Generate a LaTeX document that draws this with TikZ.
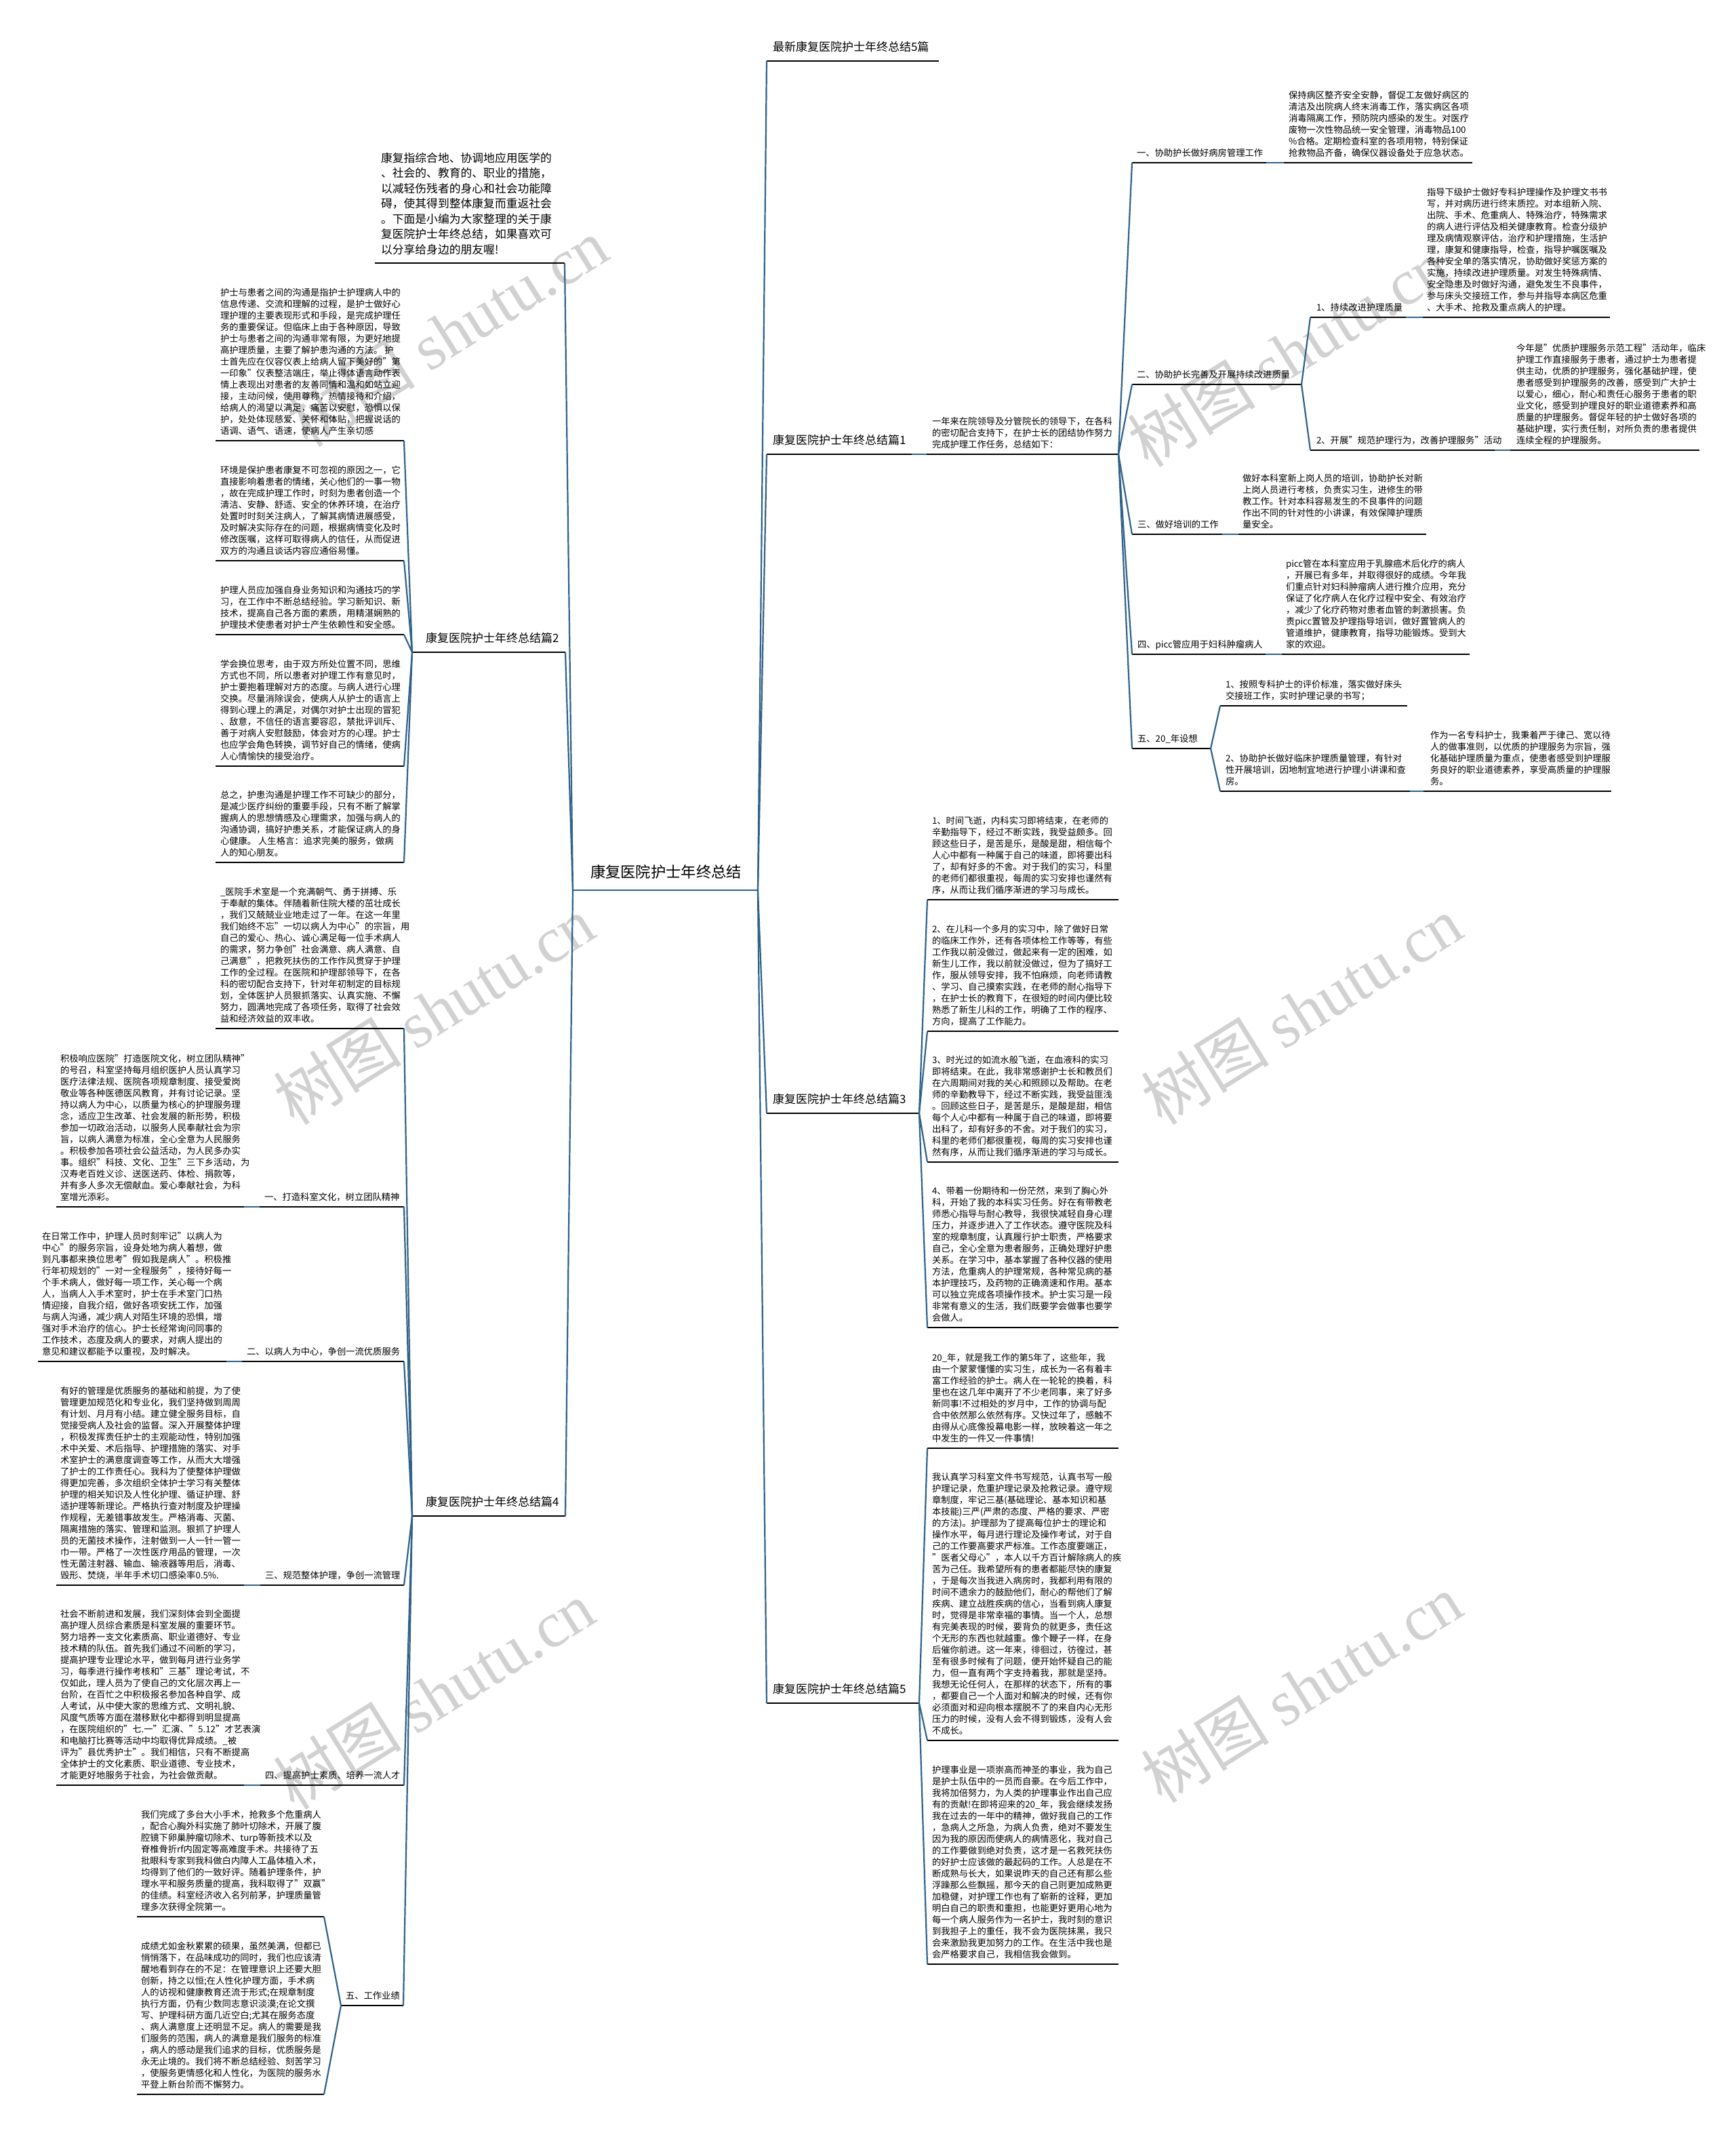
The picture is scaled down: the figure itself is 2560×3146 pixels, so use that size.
\documentclass[tikz,border=0pt]{standalone}
\usepackage{fontspec}
\setmainfont{Noto Sans CJK SC}
\newfontfamily\wmcjk{Noto Sans CJK SC}
\newfontfamily\wmlat{Liberation Serif}
\definecolor{connblue}{RGB}{47,98,138}
\tikzset{
  txt/.style={inner sep=0pt, outer sep=0pt, align=left, font=\fontsize{13.3}{17}\selectfont, execute at end node=\strut, yshift=1pt},
  introtxt/.style={txt, font=\fontsize{16.8}{22.5}\selectfont, yshift=3pt},
  mainlbl/.style={txt, font=\fontsize{17}{21}\selectfont, yshift=4pt},
  rootlbl/.style={txt, font=\fontsize{22.3}{27}\selectfont, yshift=6pt},
  uline/.style={draw=black, line width=2pt},
  conn/.style={draw=connblue, line width=2.2pt},
  wm/.style={text=black!18, inner sep=0pt, font=\fontsize{95}{100}\selectfont},
}
\newcommand{\ub}[7]{%
  \node[#6, anchor=south west] (#1) at (#5,#4-3) {#7};
  \coordinate (#1w) at (#2,#4);
  \coordinate (#1e) at (#3,#4);
  \draw[uline] (#1w) -- (#1e);
}
\begin{document}
\begin{tikzpicture}[x=1pt,y=-1pt]
\fill[white] (0,0) rectangle (2560,3146);
\useasboundingbox (0,0) rectangle (2560,3146);
% watermarks
\node[wm, rotate=32] (wm1) at (660,490) {{\wmcjk 树图} {\wmlat shutu.cn}};
\node[wm, rotate=32] (wm2) at (1900,520) {{\wmcjk 树图} {\wmlat shutu.cn}};
\node[wm, rotate=32] (wm3) at (640,1490) {{\wmcjk 树图} {\wmlat shutu.cn}};
\node[wm, rotate=32] (wm4) at (1920,1490) {{\wmcjk 树图} {\wmlat shutu.cn}};
\node[wm, rotate=32] (wm5) at (640,2500) {{\wmcjk 树图} {\wmlat shutu.cn}};
\node[wm, rotate=32] (wm6) at (1920,2490) {{\wmcjk 树图} {\wmlat shutu.cn}};

% root
\node[rootlbl, anchor=south west] (root) at (871,1310) {康复医院护士年终总结};
\coordinate (rootw) at (845,1313);
\coordinate (roote) at (1118,1313);
\draw[conn] (rootw) -- (roote);

% ===== left side =====
\ub{intro}{553}{833}{388}{562}{introtxt}{康复指综合地、协调地应用医学的\\、社会的、教育的、职业的措施，\\以减轻伤残者的身心和社会功能障\\碍，使其得到整体康复而重返社会\\。下面是小编为大家整理的关于康\\复医院护士年终总结，如果喜欢可\\以分享给身边的朋友喔!}
\ub{p2}{608}{834}{962}{628}{mainlbl}{康复医院护士年终总结篇2}
\ub{p4}{608}{834}{2236}{628}{mainlbl}{康复医院护士年终总结篇4}

\ub{a1}{318}{596}{650}{325}{txt}{护士与患者之间的沟通是指护士护理病人中的\\信息传递、交流和理解的过程，是护士做好心\\理护理的主要表现形式和手段，是完成护理任\\务的重要保证。但临床上由于各种原因，导致\\护士与患者之间的沟通非常有限，为更好地提\\高护理质量，主要了解护患沟通的方法。 护\\士首先应在仪容仪表上给病人留下美好的"第\\一印象"仪表整洁端庄，举止得体语言动作表\\情上表现出对患者的友善同情和温和如站立迎\\接，主动问候，使用尊称，热情接待和介绍，\\给病人的渴望以满足，痛苦以安慰，恐惧以保\\护，处处体现慈爱、关怀和体贴，把握说话的\\语调、语气、语速，使病人产生亲切感}
\ub{a2}{318}{596}{827}{325}{txt}{环境是保护患者康复不可忽视的原因之一，它\\直接影响着患者的情绪，关心他们的一事一物\\，故在完成护理工作时，时刻为患者创造一个\\清洁、安静、舒适、安全的休养环境，在治疗\\处置时时刻关注病人，了解其病情进展感受，\\及时解决实际存在的问题，根据病情变化及时\\修改医嘱，这样可取得病人的信任，从而促进\\双方的沟通且谈话内容应通俗易懂。}
\ub{a3}{318}{596}{936}{325}{txt}{护理人员应加强自身业务知识和沟通技巧的学\\习，在工作中不断总结经验。学习新知识、新\\技术，提高自己各方面的素质，用精湛娴熟的\\护理技术使患者对护士产生依赖性和安全感。}
\ub{a4}{318}{596}{1130}{325}{txt}{学会换位思考，由于双方所处位置不同，思维\\方式也不同，所以患者对护理工作有意见时，\\护士要抱着理解对方的态度。与病人进行心理\\交换。尽量消除误会，使病人从护士的语言上\\得到心理上的满足，对偶尔对护士出现的冒犯\\、敌意，不信任的语言要容忍，禁批评训斥、\\善于对病人安慰鼓励，体会对方的心理。护士\\也应学会角色转换，调节好自己的情绪，使病\\人心情愉快的接受治疗。}
\ub{a5}{318}{596}{1272}{325}{txt}{总之，护患沟通是护理工作不可缺少的部分，\\是减少医疗纠纷的重要手段，只有不断了解掌\\握病人的思想情感及心理需求，加强与病人的\\沟通协调，搞好护患关系，才能保证病人的身\\心健康。 人生格言：追求完美的服务，做病\\人的知心朋友。}

\ub{qa}{318}{596}{1517}{325}{txt}{\_医院手术室是一个充满朝气、勇于拼搏、乐\\于奉献的集体。伴随着新住院大楼的茁壮成长\\，我们又兢兢业业地走过了一年。在这一年里\\我们始终不忘"一切以病人为中心"的宗旨，用\\自己的爱心、热心、诚心满足每一位手术病人\\的需求，努力争创"社会满意、病人满意、自\\己满意"，把救死扶伤的工作作风贯穿于护理\\工作的全过程。在医院和护理部领导下，在各\\科的密切配合支持下，针对年初制定的目标规\\划，全体医护人员狠抓落实、认真实施、不懈\\努力，圆满地完成了各项任务，取得了社会效\\益和经济效益的双丰收。}
\ub{l1}{383}{596}{1780}{390}{txt}{一、打造科室文化，树立团队精神}
\ub{qb}{83}{360}{1780}{89}{txt}{积极响应医院"打造医院文化，树立团队精神"\\的号召，科室坚持每月组织医护人员认真学习\\医疗法律法规、医院各项规章制度、接受爱岗\\敬业等各种医德医风教育，并有讨论记录。坚\\持以病人为中心，以质量为核心的护理服务理\\念，适应卫生改革、社会发展的新形势，积极\\参加一切政治活动，以服务人民奉献社会为宗\\旨，以病人满意为标准，全心全意为人民服务\\。积极参加各项社会公益活动，为人民多办实\\事。组织"科技、文化、卫生"三下乡活动，为\\汉寿老百姓义诊、送医送药、体检、捐款等，\\并有多人多次无偿献血。爱心奉献社会，为科\\室增光添彩。}
\ub{l2}{357}{596}{2008}{364}{txt}{二、以病人为中心，争创一流优质服务}
\ub{qc}{56}{334}{2008}{62}{txt}{在日常工作中，护理人员时刻牢记"以病人为\\中心"的服务宗旨，设身处地为病人着想，做\\到凡事都来换位思考"假如我是病人"。积极推\\行年初规划的"一对一全程服务"，接待好每一\\个手术病人，做好每一项工作，关心每一个病\\人，当病人入手术室时，护士在手术室门口热\\情迎接，自我介绍，做好各项安抚工作，加强\\与病人沟通，减少病人对陌生环境的恐惧，增\\强对手术治疗的信心。护士长经常询问同事的\\工作技术，态度及病人的要求，对病人提出的\\意见和建议都能予以重视，及时解决。}
\ub{l3}{384}{596}{2338}{391}{txt}{三、规范整体护理，争创一流管理}
\ub{qd}{83}{360}{2338}{89}{txt}{有好的管理是优质服务的基础和前提，为了使\\管理更加规范化和专业化，我们坚持做到周周\\有计划、月月有小结。建立健全服务目标，自\\觉接受病人及社会的监督。深入开展整体护理\\，积极发挥责任护士的主观能动性，特别加强\\术中关爱、术后指导、护理措施的落实、对手\\术室护士的满意度调查等工作，从而大大增强\\了护士的工作责任心。我科为了使整体护理做\\得更加完善，多次组织全体护士学习有关整体\\护理的相关知识及人性化护理、循证护理、舒\\适护理等新理论。严格执行查对制度及护理操\\作规程，无差错事故发生。严格消毒、灭菌、\\隔离措施的落实、管理和监测。狠抓了护理人\\员的无菌技术操作，注射做到一人一针一管一\\巾一带。严格了一次性医疗用品的管理，一次\\性无菌注射器、输血、输液器等用后，消毒、\\毁形、焚烧，半年手术切口感染率0.5\%.}
\ub{l4}{384}{596}{2633}{391}{txt}{四、提高护士素质、培养一流人才}
\ub{qe}{83}{360}{2633}{89}{txt}{社会不断前进和发展，我们深刻体会到全面提\\高护理人员综合素质是科室发展的重要环节。\\努力培养一支文化素质高、职业道德好、专业\\技术精的队伍。首先我们通过不间断的学习，\\提高护理专业理论水平，做到每月进行业务学\\习，每季进行操作考核和"三基"理论考试，不\\仅如此，理人员为了使自己的文化层次再上一\\台阶，在百忙之中积极报名参加各种自学、成\\人考试，从中使大家的思维方式、文明礼貌、\\风度气质等方面在潜移默化中都得到明显提高\\，在医院组织的"七.一"汇演、"5.12"才艺表演\\和电脑打比赛等活动中均取得优异成绩。\_被\\评为"县优秀护士"。我们相信，只有不断提高\\全体护士的文化素质、职业道德、专业技术，\\才能更好地服务于社会，为社会做贡献。}
\ub{l5}{503}{595}{2958}{510}{txt}{五、工作业绩}
\ub{qf}{202}{478}{2827}{208}{txt}{我们完成了多台大小手术，抢救多个危重病人\\，配合心胸外科实施了肺叶切除术，开展了腹\\腔镜下卵巢肿瘤切除术、turp等新技术以及\\脊椎骨折rf内固定等高难度手术。共接待了五\\批眼科专家到我科做白内障人工晶体植入术，\\均得到了他们的一致好评。随着护理条件，护\\理水平和服务质量的提高，我科取得了"双赢"\\的佳绩。科室经济收入名列前茅，护理质量管\\理多次获得全院第一。}
\ub{qg}{202}{478}{3089}{208}{txt}{成绩尤如金秋累累的硕果，虽然美满，但都已\\悄悄落下，在品味成功的同时，我们也应该清\\醒地看到存在的不足：在管理意识上还要大胆\\创新，持之以恒;在人性化护理方面，手术病\\人的访视和健康教育还流于形式;在规章制度\\执行方面，仍有少数同志意识淡漠;在论文撰\\写、护理科研方面几近空白;尤其在服务态度\\、病人满意度上还明显不足。病人的需要是我\\们服务的范围，病人的满意是我们服务的标准\\，病人的感动是我们追求的目标，优质服务是\\永无止境的。我们将不断总结经验、刻苦学习\\，使服务更情感化和人性化，为医院的服务水\\平登上新台阶而不懈努力。}

% ===== right side =====
\ub{top}{1131}{1385}{90}{1140}{mainlbl}{最新康复医院护士年终总结5篇}
\ub{p1}{1131}{1345}{670}{1140}{mainlbl}{康复医院护士年终总结篇1}
\ub{p3}{1131}{1356}{1642}{1140}{mainlbl}{康复医院护士年终总结篇3}
\ub{p5}{1131}{1356}{2512}{1140}{mainlbl}{康复医院护士年终总结篇5}

\ub{pb}{1367}{1650}{670}{1375}{txt}{一年来在院领导及分管院长的领导下，在各科\\的密切配合支持下，在护士长的团结协作努力\\完成护理工作任务，总结如下：}

\ub{s1}{1670}{1868}{240}{1677}{txt}{一、协助护长做好病房管理工作}
\ub{s1b}{1894}{2172}{240}{1901}{txt}{保持病区整齐安全安静，督促工友做好病区的\\清洁及出院病人终末消毒工作，落实病区各项\\消毒隔离工作，预防院内感染的发生。对医疗\\废物一次性物品统一安全管理，消毒物品100\\\%合格。定期检查科室的各项用物，特别保证\\抢救物品齐备，确保仪器设备处于应急状态。}
\ub{s2}{1670}{1920}{567}{1677}{txt}{二、协助护长完善及开展持续改进质量}
\ub{s2a}{1933}{2074}{468}{1942}{txt}{1、持续改进护理质量}
\ub{s2ab}{2099}{2375}{468}{2105}{txt}{指导下级护士做好专科护理操作及护理文书书\\写，并对病历进行终末质控。对本组新入院、\\出院、手术、危重病人、特殊治疗，特殊需求\\的病人进行评估及相关健康教育。检查分级护\\理及病情观察评估，治疗和护理措施，生活护\\理，康复和健康指导，检查，指导护嘱医嘱及\\各种安全单的落实情况，协助做好奖惩方案的\\实施，持续改进护理质量。对发生特殊病情、\\安全隐患及时做好沟通，避免发生不良事件，\\参与床头交接班工作，参与并指导本病区危重\\、大手术、抢救及重点病人的护理。}
\ub{s2b}{1933}{2205}{664}{1942}{txt}{2、开展"规范护理行为，改善护理服务"活动}
\ub{s2bb}{2228}{2507}{664}{2237}{txt}{今年是"优质护理服务示范工程"活动年，临床\\护理工作直接服务于患者，通过护士为患者提\\供主动，优质的护理服务，强化基础护理，使\\患者感受到护理服务的改善，感受到广大护士\\以爱心，细心，耐心和责任心服务于患者的职\\业文化，感受到护理良好的职业道德素养和高\\质量的护理服务。督促年轻的护士做好各项的\\基础护理，实行责任制，对所负责的患者提供\\连续全程的护理服务。}
\ub{s3}{1670}{1803}{788}{1678}{txt}{三、做好培训的工作}
\ub{s3b}{1827}{2104}{788}{1833}{txt}{做好本科室新上岗人员的培训，协助护长对新\\上岗人员进行考核，负责实习生，进修生的带\\教工作。针对本科容易发生的不良事件的问题\\作出不同的针对性的小讲课，有效保障护理质\\量安全。}
\ub{s4}{1670}{1867}{965}{1678}{txt}{四、picc管应用于妇科肿瘤病人}
\ub{s4b}{1891}{2168}{965}{1897}{txt}{picc管在本科室应用于乳腺癌术后化疗的病人\\，开展已有多年，并取得很好的成绩。今年我\\们重点针对妇科肿瘤病人进行推介应用，充分\\保证了化疗病人在化疗过程中安全、有效治疗\\，减少了化疗药物对患者血管的刺激损害。负\\责picc置管及护理指导培训，做好置管病人的\\管道维护，健康教育，指导功能锻炼。受到大\\家的欢迎。}
\ub{s5}{1670}{1786}{1104}{1678}{txt}{五、20\_年设想}
\ub{s5a}{1800}{2076}{1041}{1808}{txt}{1、按照专科护士的评价标准，落实做好床头\\交接班工作，实时护理记录的书写；}
\ub{s5b}{1800}{2080}{1167}{1808}{txt}{2、协助护长做好临床护理质量管理，有针对\\性开展培训，因地制宜地进行护理小讲课和查\\房。}
\ub{s5bb}{2100}{2377}{1167}{2110}{txt}{作为一名专科护士，我秉着严于律己、宽以待\\人的做事准则，以优质的护理服务为宗旨，强\\化基础护理质量为重点，使患者感受到护理服\\务良好的职业道德素养，享受高质量的护理服\\务。}

\ub{b1}{1368}{1650}{1327}{1375}{txt}{1、时间飞逝，内科实习即将结束，在老师的\\辛勤指导下，经过不断实践，我受益颇多。回\\顾这些日子，是苦是乐，是酸是甜，相信每个\\人心中都有一种属于自己的味道，即将要出科\\了，却有好多的不舍。对于我们的实习，科里\\的老师们都很重视，每周的实习安排也谨然有\\序，从而让我们循序渐进的学习与成长。}
\ub{b2}{1368}{1650}{1521}{1375}{txt}{2、在儿科一个多月的实习中，除了做好日常\\的临床工作外，还有各项体检工作等等，有些\\工作我以前没做过，做起来有一定的困难，如\\新生儿工作，我以前就没做过，但为了搞好工\\作，服从领导安排，我不怕麻烦，向老师请教\\、学习、自己摸索实践，在老师的耐心指导下\\，在护士长的教育下，在很短的时间内便比较\\熟悉了新生儿科的工作，明确了工作的程序、\\方向，提高了工作能力。}
\ub{b3}{1368}{1650}{1714}{1375}{txt}{3、时光过的如流水般飞逝，在血液科的实习\\即将结束。在此，我非常感谢护士长和教员们\\在六周期间对我的关心和照顾以及帮助。在老\\师的辛勤教导下，经过不断实践，我受益匪浅\\。回顾这些日子，是苦是乐，是酸是甜，相信\\每个人心中都有一种属于自己的味道，即将要\\出科了，却有好多的不舍。对于我们的实习，\\科里的老师们都很重视，每周的实习安排也谨\\然有序，从而让我们循序渐进的学习与成长。}
\ub{b4}{1368}{1650}{1958}{1375}{txt}{4、带着一份期待和一份茫然，来到了胸心外\\科，开始了我的本科实习任务。好在有带教老\\师悉心指导与耐心教导，我很快减轻自身心理\\压力，并逐步进入了工作状态。遵守医院及科\\室的规章制度，认真履行护士职责，严格要求\\自己，全心全意为患者服务，正确处理好护患\\关系。在学习中，基本掌握了各种仪器的使用\\方法，危重病人的护理常规，各种常见病的基\\本护理技巧，及药物的正确滴速和作用。基本\\可以独立完成各项操作技术。护士实习是一段\\非常有意义的生活，我们既要学会做事也要学\\会做人。}
\ub{b5}{1368}{1650}{2136}{1375}{txt}{20\_年，就是我工作的第5年了，这些年，我\\由一个蒙蒙懂懂的实习生，成长为一名有着丰\\富工作经验的护士。病人在一轮轮的换着，科\\里也在这几年中离开了不少老同事，来了好多\\新同事!不过相处的岁月中，工作的协调与配\\合中依然那么依然有序。又快过年了，感触不\\由得从心底像投幕电影一样，放映着这一年之\\中发生的一件又一件事情!}
\ub{b6}{1368}{1650}{2567}{1375}{txt}{我认真学习科室文件书写规范，认真书写一般\\护理记录，危重护理记录及抢救记录。遵守规\\章制度，牢记三基(基础理论、基本知识和基\\本技能)三严(严肃的态度、严格的要求、严密\\的方法)。护理部为了提高每位护士的理论和\\操作水平，每月进行理论及操作考试，对于自\\己的工作要高要求严标准。工作态度要端正，\\"医者父母心"，本人以千方百计解除病人的疾\\苦为己任。我希望所有的患者都能尽快的康复\\，于是每次当我进入病房时，我都利用有限的\\时间不遗余力的鼓励他们，耐心的帮他们了解\\疾病、建立战胜疾病的信心，当看到病人康复\\时，觉得是非常幸福的事情。当一个人，总想\\有完美表现的时候，要背负的就更多，责任这\\个无形的东西也就越重。像个鞭子一样，在身\\后催你前进。这一年来，徘徊过，彷徨过，甚\\至有很多时候有了问题，便开始怀疑自己的能\\力，但一直有两个字支持着我，那就是坚持。\\我想无论任何人，在那样的状态下，所有的事\\，都要自己一个人面对和解决的时候，还有你\\必须面对和迎向根本摆脱不了的来自内心无形\\压力的时候，没有人会不得到锻炼，没有人会\\不成长。}
\ub{b7}{1368}{1650}{2897}{1375}{txt}{护理事业是一项崇高而神圣的事业，我为自己\\是护士队伍中的一员而自豪。在今后工作中，\\我将加倍努力，为人类的护理事业作出自己应\\有的贡献!在即将迎来的20\_年，我会继续发扬\\我在过去的一年中的精神，做好我自己的工作\\，急病人之所急，为病人负责，绝对不要发生\\因为我的原因而使病人的病情恶化，我对自己\\的工作要做到绝对负责，这才是一名救死扶伤\\的好护士应该做的最起码的工作。人总是在不\\断成熟与长大，如果说昨天的自己还有那么些\\浮躁那么些飘摇，那今天的自己则更加成熟更\\加稳健，对护理工作也有了崭新的诠释，更加\\明白自己的职责和重担，也能更好更用心地为\\每一个病人服务作为一名护士，我时刻的意识\\到我担子上的重任，我不会为医院抹黑，我只\\会来激励我更加努力的工作。在生活中我也是\\会严格要求自己，我相信我会做到。}

% ===== connectors =====
\foreach \c in {introe,p2e,p4e} \draw[conn] (rootw) -- (\c);
\foreach \c in {topw,p1w,p3w,p5w} \draw[conn] (roote) -- (\c);
\foreach \c in {a1e,a2e,a3e,a4e,a5e} \draw[conn] (p2w) -- (\c);
\foreach \c in {qae,l1e,l2e,l3e,l4e,l5e} \draw[conn] (p4w) -- (\c);
\draw[conn] (l1w) -- (qbe);
\draw[conn] (l2w) -- (qce);
\draw[conn] (l3w) -- (qde);
\draw[conn] (l4w) -- (qee);
\draw[conn] (l5w) -- (qfe);
\draw[conn] (l5w) -- (qge);
\draw[conn] (p1e) -- (pbw);
\foreach \c in {s1w,s2w,s3w,s4w,s5w} \draw[conn] (pbe) -- (\c);
\draw[conn] (s1e) -- (s1bw);
\draw[conn] (s2e) -- (s2aw);
\draw[conn] (s2e) -- (s2bw);
\draw[conn] (s2ae) -- (s2abw);
\draw[conn] (s2be) -- (s2bbw);
\draw[conn] (s3e) -- (s3bw);
\draw[conn] (s4e) -- (s4bw);
\draw[conn] (s5e) -- (s5aw);
\draw[conn] (s5e) -- (s5bw);
\draw[conn] (s5be) -- (s5bbw);
\foreach \c in {b1w,b2w,b3w,b4w} \draw[conn] (p3e) -- (\c);
\foreach \c in {b5w,b6w,b7w} \draw[conn] (p5e) -- (\c);
\end{tikzpicture}
\end{document}
